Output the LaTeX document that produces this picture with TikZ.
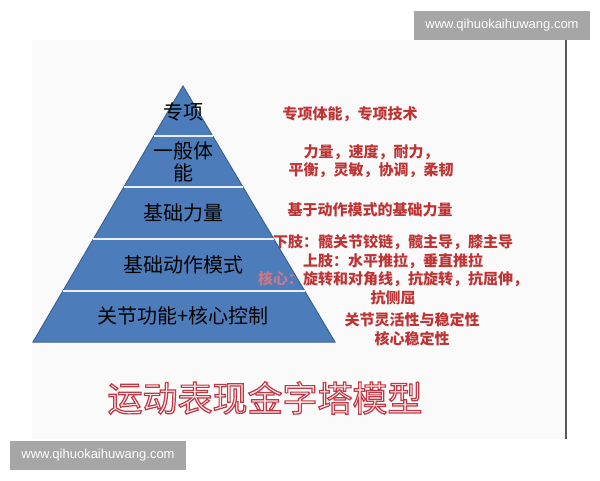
\documentclass[tikz,border=0pt]{standalone}
\usepackage{fontspec}
\setmainfont{Noto Sans CJK SC}
\newfontfamily\webfont{Liberation Sans}
\usetikzlibrary{calc}
\definecolor{pyrblue}{RGB}{76,125,186}
\definecolor{pyredge}{RGB}{58,98,150}
\definecolor{noteRed}{RGB}{190,52,52}
\definecolor{corePink}{RGB}{206,118,134}
\definecolor{titleRed}{RGB}{200,62,72}
\definecolor{markGray}{RGB}{166,166,166}
\definecolor{panelGray}{RGB}{250,250,250}
\def\outlinetext#1{\special{pdf:literal direct q 2 Tr 1.2 w 0.76 0.22 0.27 RG}#1\special{pdf:literal direct Q}}
\tikzset{
  bandtext/.style={inner sep=0pt, font=\fontsize{20}{22}\selectfont, align=center},
  notetext/.style={inner sep=0pt, text=noteRed, font=\fontsize{15}{18.5}\selectfont\bfseries, align=center},
  titletext/.style={inner sep=0pt, font=\fontsize{35}{40}\selectfont},
  webbox/.style={fill=markGray, text=white, inner sep=0pt, minimum width=176, minimum height=29, font=\fontsize{13}{15}\selectfont\webfont},
  divider/.style={line width=1.6pt, color=white!88!pyrblue}
}
\begin{document}
\begin{tikzpicture}[x=1pt, y=-1pt]
		%%%%% START %%%%%
		\useasboundingbox (0, 0) rectangle (600, 480);
		\fill[white] (0, 0) rectangle (600, 480);
		
		\fill[panelGray] (32, 40) rectangle (566, 439);
		\draw[line width=1.2pt, color=black!65] (566, 40) -- (566, 439);
		
		\coordinate (apex) at (183, 86);
		\coordinate (bl) at (33, 342);
		\coordinate (br) at (335, 342);
		\draw[fill=pyrblue, draw=pyredge, line width=1pt] (apex) -- (br) -- (bl) -- cycle;
		\foreach \t in {0.195, 0.395, 0.598, 0.801}
			\draw[divider] ($(apex)!\t!(bl)$) -- ($(apex)!\t!(br)$);
		
		\node[bandtext] (special) at (183, 112) {专项};
		\node[bandtext] (general) at (183, 162) {一般体\\能};
		\node[bandtext] (basestr) at (183, 213) {基础力量};
		\node[bandtext] (pattern) at (183, 265) {基础动作模式};
		\node[bandtext] (joint) at (183, 316) {关节功能+核心控制};
		
		\node[notetext] (specialnote) at (350, 114) {专项体能，专项技术};
		\node[notetext] (generalnote) at (371, 161) {力量，速度，耐力，\\平衡，灵敏，协调，柔韧};
		\node[notetext] (basestrnote) at (370, 210) {基于动作模式的基础力量};
		\node[notetext] (patternnote) at (393, 270) {下肢：髋关节铰链，髋主导，膝主导\\上肢：水平推拉，垂直推拉\\{\color{corePink}核心：}旋转和对角线，抗旋转，抗屈伸，\\抗侧屈};
		\node[notetext] (jointnote) at (412, 329) {关节灵活性与稳定性\\核心稳定性};
		
		\node[titletext, text=white!90!titleRed] (title) at (265, 398) {\outlinetext{运动表现金字塔模型}};
		
		\node[webbox] (marktop) at (502, 25) {www.qihuokaihuwang.com};
		\node[webbox] (markbottom) at (98, 455) {www.qihuokaihuwang.com};
		%%%%% END %%%%%
\end{tikzpicture}
\end{document}
